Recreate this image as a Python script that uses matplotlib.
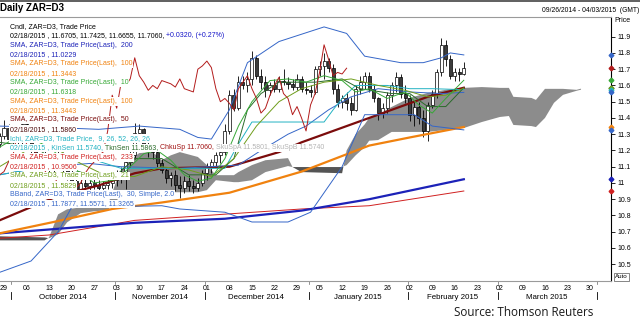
import matplotlib
matplotlib.use("Agg")
import matplotlib.pyplot as plt
import matplotlib.transforms as mtransforms
from matplotlib.lines import Line2D
import numpy as np
import pandas as pd

plt.rcParams['font.family'] = ['Liberation Sans', 'DejaVu Sans']

# weekdays on the time axis (09/26/2014 - 04/03/2015)
days = pd.bdate_range('2014-09-26', '2015-04-03')

# daily candles ZAR=D3, 09/26/2014 .. 02/18/2015
opens = [11.24, 11.29, 11.34, 11.27, 11.30, 11.25, 11.36, 11.28, 11.20, 11.12,
         11.15, 11.13, 11.08, 11.12, 11.15, 11.08, 11.05, 11.01, 10.96, 11.00,
         10.98, 11.00, 10.99, 10.97, 10.99, 11.00, 11.02, 11.05, 11.07, 11.13,
         11.17, 11.31, 11.33, 11.24, 11.20, 11.19, 11.12, 11.08, 11.03, 11.05,
         10.99, 10.97, 11.01, 10.98, 10.97, 11.00, 11.06, 11.10, 11.13, 11.17,
         11.19, 11.32, 11.54, 11.46, 11.62, 11.60, 11.64, 11.77, 11.66, 11.62,
         11.57, 11.60, 11.58, 11.63, 11.62, 11.61, 11.59, 11.64, 11.58, 11.57,
         11.56, 11.70, 11.72, 11.75, 11.71, 11.58, 11.50, 11.52, 11.49, 11.45,
         11.58, 11.62, 11.66, 11.58, 11.52, 11.43, 11.46, 11.54, 11.60, 11.65,
         11.55, 11.52, 11.42, 11.47, 11.40, 11.32, 11.48, 11.55, 11.68, 11.85,
         11.76, 11.66, 11.68, 11.6705]
highs = [11.31, 11.39, 11.36, 11.33, 11.34, 11.39, 11.38, 11.30, 11.24, 11.18,
         11.20, 11.16, 11.14, 11.22, 11.19, 11.12, 11.08, 11.04, 11.03, 11.04,
         11.02, 11.03, 11.02, 11.01, 11.03, 11.06, 11.08, 11.10, 11.16, 11.20,
         11.37, 11.36, 11.34, 11.27, 11.23, 11.21, 11.15, 11.10, 11.07, 11.08,
         11.04, 11.04, 11.05, 11.02, 11.03, 11.08, 11.12, 11.15, 11.19, 11.22,
         11.36, 11.57, 11.58, 11.66, 11.66, 11.68, 11.81, 11.79, 11.70, 11.66,
         11.62, 11.64, 11.66, 11.70, 11.65, 11.64, 11.67, 11.66, 11.62, 11.60,
         11.72, 11.75, 11.80, 11.77, 11.73, 11.61, 11.54, 11.56, 11.53, 11.60,
         11.66, 11.68, 11.68, 11.60, 11.53, 11.49, 11.56, 11.62, 11.68, 11.67,
         11.60, 11.54, 11.50, 11.50, 11.45, 11.50, 11.57, 11.70, 11.89, 11.88,
         11.79, 11.71, 11.71, 11.7425]
lows = [11.22, 11.27, 11.23, 11.21, 11.22, 11.23, 11.25, 11.17, 11.10, 11.08,
        11.10, 11.05, 11.05, 11.08, 11.06, 11.02, 10.98, 10.92, 10.94, 10.96,
        10.95, 10.96, 10.95, 10.94, 10.96, 10.97, 10.98, 11.00, 10.96, 11.10,
        11.15, 11.25, 11.22, 11.16, 11.15, 11.10, 11.06, 11.00, 10.98, 10.95,
        10.91, 10.94, 10.95, 10.94, 10.95, 10.98, 11.02, 11.06, 11.10, 11.12,
        11.17, 11.30, 11.44, 11.45, 11.58, 11.56, 11.60, 11.64, 11.58, 11.53,
        11.54, 11.56, 11.56, 11.60, 11.58, 11.57, 11.57, 11.56, 11.55, 11.53,
        11.55, 11.66, 11.64, 11.68, 11.55, 11.47, 11.46, 11.45, 11.42, 11.44,
        11.55, 11.58, 11.56, 11.50, 11.39, 11.40, 11.43, 11.50, 11.56, 11.52,
        11.49, 11.38, 11.35, 11.36, 11.28, 11.26, 11.46, 11.52, 11.66, 11.72,
        11.64, 11.63, 11.63, 11.6655]
closes = [11.29, 11.34, 11.27, 11.30, 11.25, 11.36, 11.28, 11.20, 11.12, 11.15,
          11.13, 11.08, 11.12, 11.15, 11.08, 11.05, 11.01, 10.96, 11.00, 10.98,
          11.00, 10.99, 10.97, 10.99, 11.00, 11.02, 11.05, 11.07, 11.13, 11.17,
          11.31, 11.33, 11.24, 11.20, 11.19, 11.12, 11.08, 11.03, 11.05, 10.99,
          10.97, 11.01, 10.98, 10.97, 11.00, 11.06, 11.10, 11.13, 11.17, 11.19,
          11.32, 11.54, 11.46, 11.62, 11.60, 11.64, 11.77, 11.66, 11.62, 11.57,
          11.60, 11.58, 11.63, 11.62, 11.61, 11.59, 11.64, 11.58, 11.57, 11.56,
          11.70, 11.72, 11.75, 11.71, 11.58, 11.50, 11.52, 11.49, 11.45, 11.58,
          11.62, 11.66, 11.58, 11.52, 11.43, 11.46, 11.54, 11.60, 11.65, 11.55,
          11.52, 11.42, 11.47, 11.40, 11.32, 11.48, 11.55, 11.68, 11.85, 11.76,
          11.66, 11.68, 11.6705, 11.706]

# indicator lines as (day index, value)
sma200_x = [0, 30, 50, 67, 82, 103]
sma200_y = [10.69, 10.755, 10.78, 10.83, 10.90, 11.0229]
sma233_x = [0, 11, 30, 51, 67, 82, 103]
sma233_y = [10.66, 10.68, 10.77, 10.81, 10.84, 10.86, 10.9506]
sma100_x = [0, 12, 25, 36, 51, 67, 82, 91, 103]
sma100_y = [10.69, 10.76, 10.84, 10.88, 10.94, 11.07, 11.23, 11.28, 11.3443]
sma50_x = [0, 6, 13, 22, 30, 36, 51, 62, 67, 82, 87, 95, 103]
sma50_y = [10.77, 10.84, 10.92, 10.985, 11.06, 11.09, 11.10, 11.19, 11.25,
           11.40, 11.45, 11.53, 11.586]
sma10_x = [0, 5, 11, 16, 21, 26, 29, 32, 35, 38, 41, 44, 47, 50, 53, 56, 60,
           64, 68, 72, 76, 79, 82, 86, 90, 93, 96, 99, 103]
sma10_y = [11.22, 11.30, 11.22, 11.10, 11.00, 11.02, 11.10, 11.18, 11.20,
           11.14, 11.05, 11.01, 11.03, 11.15, 11.35, 11.50, 11.63, 11.64,
           11.62, 11.66, 11.63, 11.56, 11.58, 11.52, 11.56, 11.48, 11.43,
           11.52, 11.6318]
sma21_x = [0, 6, 12, 18, 24, 30, 36, 42, 47, 52, 57, 62, 67, 72, 78, 84, 90,
           95, 99, 103]
sma21_y = [11.10, 11.20, 11.22, 11.12, 11.04, 11.04, 11.10, 11.08, 11.04,
           11.15, 11.35, 11.50, 11.58, 11.62, 11.64, 11.60, 11.57, 11.53,
           11.54, 11.5829]
tenkan_x = [0, 8, 14, 20, 26, 30, 36, 42, 48, 52, 55, 58, 62, 70, 76, 80, 87,
            91, 95, 99, 103]
tenkan_y = [11.25, 11.22, 11.10, 11.05, 11.05, 11.15, 11.15, 11.05, 11.05,
            11.15, 11.45, 11.55, 11.62, 11.62, 11.64, 11.58, 11.55, 11.55,
            11.47, 11.47, 11.5863]
kijun_x = [0, 20, 27, 50, 53, 56, 72, 74, 76, 79, 86, 91, 96, 103]
kijun_y = [11.05, 11.15, 11.09, 11.09, 11.24, 11.375, 11.375, 11.45, 11.52,
           11.60, 11.60, 11.58, 11.58, 11.574]
bb_up_x = [0, 13, 22, 31, 40, 44, 47, 51, 55, 62, 72, 77, 81, 89, 94, 98, 100, 103]
bb_up_y = [11.35, 11.34, 11.33, 11.35, 11.33, 11.28, 11.27, 11.45, 11.74,
           11.87, 11.96, 11.92, 11.78, 11.74, 11.74, 11.77, 11.80, 11.7877]
bb_mid_x = [0, 10, 20, 27, 40, 53, 58, 64, 68, 73, 78, 84, 91, 98, 103]
bb_mid_y = [11.05, 11.10, 11.12, 11.10, 11.09, 11.11, 11.20, 11.30, 11.35,
            11.45, 11.53, 11.58, 11.56, 11.55, 11.5571]
bb_low_x = [0, 7, 13, 16, 36, 40, 50, 56, 64, 69, 71, 76, 81, 92, 96, 103]
bb_low_y = [10.45, 10.52, 10.70, 10.85, 10.86, 10.84, 10.82, 10.76, 10.76,
            10.82, 10.90, 11.10, 11.42, 11.42, 11.35, 11.3265]
# Ichimoku cloud (leading spans, projected 26 days ahead)
cloud_x = [0, 10, 11, 13, 15, 18, 21, 24, 26, 28, 31, 34, 36, 38, 40, 44, 46,
           48, 52, 53, 56, 59, 64, 65, 67, 76, 77, 79, 81, 82, 84, 87, 91, 95,
           99, 103, 107, 111, 113, 114, 118, 119, 121, 123, 125, 128, 129]
span_a = [10.647, 10.647, 10.665, 10.807, 10.838, 10.85, 10.857, 10.863,
          11.017, 11.122, 11.184, 11.19, 11.14, 11.17, 11.19, 11.16, 11.11,
          11.048, 11.048, 11.067, 11.11, 11.14, 11.153, 11.098, 11.067, 11.06,
          11.20, 11.30, 11.36, 11.40, 11.42, 11.468, 11.523, 11.554, 11.573,
          11.585, 11.59, 11.585, 11.585, 11.53, 11.523, 11.511, 11.579,
          11.579, 11.579, 11.573, 11.5801]
span_b = [10.672, 10.665, 10.660, 10.684, 10.758, 10.814, 10.826, 10.832,
          10.894, 10.943, 10.943, 10.943, 10.943, 10.943, 10.943, 10.943,
          10.956, 11.017, 11.005, 11.005, 11.017, 11.067, 11.104, 11.098,
          11.098, 11.098, 11.11, 11.17, 11.22, 11.26, 11.264, 11.314, 11.314,
          11.314, 11.326, 11.338, 11.375, 11.406, 11.412, 11.357, 11.35,
          11.344, 11.40, 11.493, 11.542, 11.567, 11.574]

C_200 = '#1c22b8'
C_100 = '#f0820f'
C_50 = '#7b0c0c'
C_10 = '#36a836'
C_21 = '#6f9e1c'
C_233 = '#d02020'
C_BB = '#3566c8'
C_KIJ = '#22b2c2'
C_TEN = '#2a6b2a'
C_CHK = '#b31c1c'

fig = plt.figure(figsize=(6.4, 3.26), dpi=100)
ax = fig.add_axes([0, 45 / 326, 611 / 640, 264 / 326])
xmax = 135.65
ax.set_xlim(0.11, xmax)
ax.set_ylim(10.397, 12.021)

# cloud
cx = np.array(cloud_x)
sa = np.array(span_a)
sb = np.array(span_b)
ax.fill_between(cx, sa, sb, where=sa >= sb, interpolate=True,
                color='#8c8c8c', lw=0, zorder=1)
ax.fill_between(cx, sa, sb, where=sa < sb, interpolate=True,
                color='#545454', lw=0, zorder=1)

# candles
o = np.array(opens)
h = np.array(highs)
l = np.array(lows)
c = np.array(closes)
idx = np.arange(len(c))
up = c >= o
ax.vlines(idx, l, h, color='black', lw=0.6, zorder=3)
ax.bar(idx[up], (c - o)[up], bottom=o[up], width=0.68, color='white',
       edgecolor='black', lw=0.5, zorder=4)
ax.bar(idx[~up], (o - c)[~up], bottom=c[~up], width=0.68, color='#3c3c3c',
       edgecolor='black', lw=0.5, zorder=4)

# indicator lines
thin = 0.7
ax.plot(sma233_x, sma233_y, color=C_233, lw=thin, zorder=5)
ax.plot(sma200_x, sma200_y, color=C_200, lw=1.6, zorder=5)
ax.plot(sma100_x, sma100_y, color=C_100, lw=1.6, zorder=5)
ax.plot(sma50_x, sma50_y, color=C_50, lw=1.6, zorder=5)
ax.plot(bb_up_x, bb_up_y, color=C_BB, lw=thin, zorder=5)
ax.plot(bb_mid_x, bb_mid_y, color=C_BB, lw=thin, zorder=5)
ax.plot(bb_low_x, bb_low_y, color=C_BB, lw=thin, zorder=5)
ax.plot(kijun_x, kijun_y, color=C_KIJ, lw=thin, zorder=5)
ax.plot(tenkan_x, tenkan_y, color=C_TEN, lw=thin, zorder=5)
ax.plot(sma21_x, sma21_y, color=C_21, lw=thin, zorder=5)
ax.plot(sma10_x, sma10_y, color=C_10, lw=thin, zorder=5)
# lagging span: closes moved back 26 days
ax.plot(idx - 26, c, color=C_CHK, lw=thin, zorder=5)

# last-value markers on the price axis
last_vals = [(11.7877, C_BB), (11.706, C_CHK), (11.6318, C_10), (11.5863, C_TEN),
             (11.5829, C_21), (11.574, C_KIJ), (11.5571, C_BB), (11.3443, C_100),
             (11.3265, C_BB), (11.0229, C_200), (10.9506, C_233)]
for v, col in last_vals:
    ax.plot([xmax], [v], marker='D', ms=2.4, color=col, clip_on=False, zorder=6)

# axes styling
ax.spines['left'].set_visible(False)
ax.spines['top'].set_color('#9a9a9a')
ax.spines['bottom'].set_color('#9a9a9a')
ax.spines['right'].set_color('black')
for s in ['top', 'bottom', 'right']:
    ax.spines[s].set_linewidth(0.8)

yt = np.round(np.arange(10.5, 11.95, 0.1), 1)
ax.yaxis.tick_right()
ax.set_yticks(yt)
ax.set_yticklabels(['11' if abs(v - 11) < 1e-9 else '%.1f' % v for v in yt])
ax.tick_params(axis='y', length=3, width=0.6, labelsize=5, pad=1.5)

mondays = [i for i, d in enumerate(days) if d.weekday() == 0]
ax.set_xticks(mondays)
ax.set_xticklabels(['%02d' % days[i].day for i in mondays])
ax.tick_params(axis='x', length=0, labelsize=5, pad=3)

trans = mtransforms.blended_transform_factory(ax.transData, ax.transAxes)
months = pd.Series(np.arange(len(days)), index=days).groupby(days.to_period('M'))
for per, grp in months:
    first, last = grp.iloc[0], grp.iloc[-1]
    if per.month != 9:
        ax.plot([first - 0.4, first - 0.4], [-0.042, -0.07], transform=trans,
                color='black', lw=0.6, clip_on=False)
        ax.plot([first - 0.4, first - 0.4], [0, -0.012], transform=trans,
                color='#666666', lw=0.5, clip_on=False)
    if per.month in (10, 11, 12, 1, 2, 3):
        ax.text((first + last) / 2, -0.062, per.strftime('%B %Y'),
                transform=trans, ha='center', va='center', fontsize=5.7)

# header and footer
fig.add_artist(Line2D([0, 1], [0.997, 0.997], color='#444444', lw=1.2))
fig.text(0.5 / 640, 1 - 8 / 326, 'Daily ZAR=D3', fontweight='bold', fontsize=7,
         va='center')
fig.text(639 / 640, 1 - 10 / 326, '09/26/2014 - 04/03/2015  (GMT)', fontsize=4.9,
         va='center', ha='right')
fig.text(614 / 640, 1 - 20 / 326, 'Price', fontsize=5, va='center')
fig.text(615 / 640, 1 - 277 / 326, 'Auto', fontsize=4.5, va='center',
         bbox=dict(facecolor='white', edgecolor='#555555', lw=0.5, pad=0.8))
fig.text(454 / 640, 1 - 312 / 326, 'Source: Thomson Reuters',
         family=['Open Sans', 'DejaVu Sans'], fontsize=8.4, va='center',
         color='#1a1a1a')

# legend block printed on the chart
rows = [
    [('Cndl, ZAR=D3, Trade Price', 'black')],
    [('02/18/2015 , 11.6705, 11.7425, 11.6655, 11.7060, ', 'black'),
     ('+0.0320, (+0.27%)', '#1414c8')],
    [('SMA, ZAR=D3, Trade Price(Last),  200', C_200)],
    [('02/18/2015 , 11.0229', C_200)],
    [('SMA, ZAR=D3, Trade Price(Last),  100', C_100)],
    [('02/18/2015 , 11.3443', C_100)],
    [('SMA, ZAR=D3, Trade Price(Last),  10', C_10)],
    [('02/18/2015 , 11.6318', C_10)],
    [('SMA, ZAR=D3, Trade Price(Last),  100', C_100)],
    [('02/18/2015 , 11.3443', C_100)],
    [('SMA, ZAR=D3, Trade Price(Last),  50', C_50)],
    [('02/18/2015 , 11.5860', '#4a0808')],
    [('Ichi, ZAR=D3, Trade Price,  9, 26, 52, 26, 26', C_KIJ)],
    [('02/18/2015 , KinSen 11.5740, ', C_KIJ), ('TknSen 11.5863, ', C_TEN),
     ('ChkuSp 11.7060, ', '#a01010'), ('SkuSpA 11.5801, SkuSpB 11.5740', '#b4b4b4')],
    [('SMA, ZAR=D3, Trade Price(Last),  233', C_233)],
    [('02/18/2015 , 10.9506', C_233)],
    [('SMA, ZAR=D3, Trade Price(Last),  21', C_21)],
    [('02/18/2015 , 11.5829', C_21)],
    [('BBand, ZAR=D3, Trade Price(Last),  30, Simple, 2.0', C_BB)],
    [('02/18/2015 , 11.7877, 11.5571, 11.3265', C_BB)],
]
fig.canvas.draw()
renderer = fig.canvas.get_renderer()
for k, parts in enumerate(rows):
    y = 1 - (28.0 + 9.34 * k) / 326
    x = 10 / 640
    for txt, col in parts:
        t = fig.text(x, y, txt, color=col, fontsize=5, va='baseline',
                     bbox=dict(facecolor='white', edgecolor='none',
                               boxstyle='square,pad=0.12'))
        bb = t.get_window_extent(renderer=renderer)
        x = bb.x1 / fig.bbox.width

fig.savefig('out.png', dpi=100)
